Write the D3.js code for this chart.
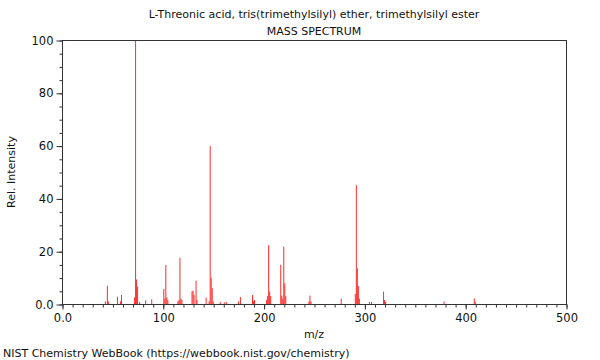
<!DOCTYPE html>
<html><head><meta charset="utf-8">
<script src="https://cdn.jsdelivr.net/npm/d3@7"></script>
<style>body{margin:0;background:#fff}svg{display:block;font-family:"DejaVu Sans",sans-serif}</style>
</head><body><svg id="c" width="600" height="360"></svg>
<script>
const title = "L-Threonic acid, tris(trimethylsilyl) ether, trimethylsilyl ester";
const subtitle = "MASS SPECTRUM";
const xLabel = "m/z";
const yLabel = "Rel. Intensity";
const footer = "NIST Chemistry WebBook (https://webbook.nist.gov/chemistry)";
const mz =        [43, 45, 46, 55, 58, 59, 72, 73, 74, 75, 77, 83, 89, 101, 102, 103, 104, 105, 115, 116, 117, 118, 119, 129, 130, 131, 133, 134, 143, 146, 147, 148, 149, 150, 157, 161, 163, 175, 177, 189, 190, 191, 203, 204, 205, 206, 207, 217, 218, 219, 220, 221, 222, 245, 246, 247, 277, 291, 292, 293, 294, 295, 305, 307, 319, 320, 321, 379, 409, 410];
const intensity = [1.0, 6.9, 1.0, 2.8, 1.0, 3.4, 2.5, 100, 9.3, 6.6, 0.8, 1.4, 1.8, 5.7, 2.0, 14.8, 2.5, 1.5, 1.0, 1.5, 17.5, 2.0, 1.5, 4.9, 5.0, 3.5, 8.8, 1.5, 2.4, 1.0, 59.8, 10, 6, 1, 0.8, 0.6, 0.8, 1.0, 2.6, 3.4, 1.0, 1.5, 1.5, 3.0, 22.3, 4.7, 3.0, 14.8, 3.2, 2.0, 21.7, 7.8, 3.0, 1.0, 3.2, 1.0, 2.0, 3.8, 45, 13.5, 6.8, 2, 0.8, 0.8, 4.7, 1.5, 0.8, 0.9, 2.1, 0.8];
const xTicks = [0, 100, 200, 300, 400, 500];
const xTickLabels = ["0.0", "100", "200", "300", "400", "500"];
const yTicks = [0, 20, 40, 60, 80, 100];
const yTickLabels = ["0.0", "20", "40", "60", "80", "100"];

const svg = d3.select("#c");
const m = {l: 62, r: 34, t: 40, b: 56};
const W = 600, H = 360;
const x = d3.scaleLinear().domain([0, 500]).range([m.l, W - m.r]);
const y = d3.scaleLinear().domain([0, 100]).range([H - m.b, m.t]);
const axisColor = "#333";

// peaks
svg.append("g").selectAll("line").data(mz).join("line")
  .attr("x1", d => x(d)).attr("x2", d => x(d))
  .attr("y1", y(0)).attr("y2", (d, i) => y(intensity[i]))
  .attr("stroke", "#ff2a2a").attr("stroke-width", 1);

// frame
svg.append("rect").attr("x", x(0) + 0.5).attr("y", y(100) + 0.5)
  .attr("width", x(500) - x(0)).attr("height", y(0) - y(100))
  .attr("fill", "none").attr("stroke", axisColor).attr("stroke-width", 1);

// x axis
const gx = svg.append("g").attr("transform", `translate(0.5,${y(0) + 0.5})`);
gx.call(d3.axisBottom(x).tickValues(d3.range(0, 501, 10)).tickSize(3).tickFormat(""))
  .call(g => g.select(".domain").remove())
  .call(g => g.selectAll("line").attr("stroke", axisColor));
gx.append("g").call(d3.axisBottom(x).tickValues(xTicks).tickSize(5).tickPadding(4).tickFormat((d, i) => xTickLabels[i]))
  .call(g => g.select(".domain").remove())
  .call(g => g.selectAll("line").attr("stroke", axisColor))
  .call(g => g.selectAll("text").attr("font-size", 11.5).attr("fill", "#111").attr("font-family", "DejaVu Sans"));

// y axis
const gy = svg.append("g").attr("transform", `translate(${x(0) + 0.5},0.5)`);
gy.call(d3.axisLeft(y).tickValues(d3.range(0, 101, 5)).tickSize(3).tickFormat(""))
  .call(g => g.select(".domain").remove())
  .call(g => g.selectAll("line").attr("stroke", axisColor));
gy.append("g").call(d3.axisLeft(y).tickValues(yTicks).tickSize(6).tickPadding(3).tickFormat((d, i) => yTickLabels[i]))
  .call(g => g.select(".domain").remove())
  .call(g => g.selectAll("line").attr("stroke", axisColor))
  .call(g => g.selectAll("text").attr("font-size", 11.5).attr("fill", "#111").attr("font-family", "DejaVu Sans"));

const cx = (x(0) + x(500)) / 2;
svg.append("text").attr("x", cx).attr("y", 18).attr("text-anchor", "middle").attr("font-size", 11).attr("fill", "#111").text(title);
svg.append("text").attr("x", cx).attr("y", 35).attr("text-anchor", "middle").attr("font-size", 11).attr("fill", "#111").text(subtitle);
svg.append("text").attr("x", cx).attr("y", 338).attr("text-anchor", "middle").attr("font-size", 11).attr("fill", "#111").text(xLabel);
svg.append("text").attr("transform", `translate(15,${(y(0) + y(100)) / 2}) rotate(-90)`).attr("text-anchor", "middle").attr("font-size", 11).attr("fill", "#111").text(yLabel);
svg.append("text").attr("x", 3).attr("y", 357).attr("font-size", 11).attr("fill", "#111").text(footer);
</script></body></html>
